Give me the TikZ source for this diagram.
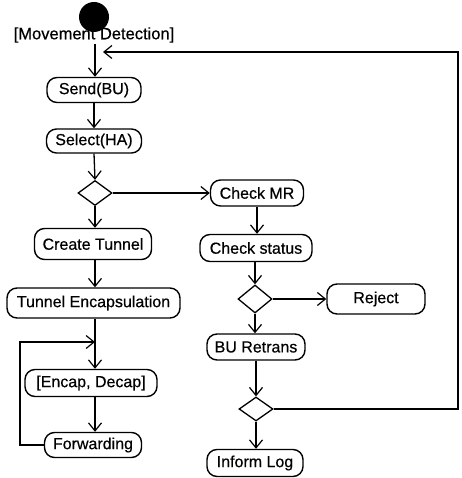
\documentclass[tikz,border=0pt]{standalone}
\usepackage{fontspec}
\setmainfont{Liberation Sans}[FakeBold=0.5]
\usetikzlibrary{arrows.meta,shapes.geometric}
\begin{document}
\begin{tikzpicture}[x=1pt,y=-1pt,
  act/.style={draw, line width=1.4pt, rounded corners=10pt, inner sep=0pt,
    font=\fontsize{16}{18}\selectfont, align=center},
  dec/.style={draw, diamond, line width=1.3pt, inner sep=0pt,
    minimum width=34pt, minimum height=25pt},
  flow/.style={line width=1.3pt, -{Straight Barb[length=8pt,width=13pt,line width=1.2pt]}},
  plain/.style={line width=1.3pt}]
\useasboundingbox (0,0) rectangle (461,478);
\node[circle, fill=black, minimum size=30pt, inner sep=0pt] (start) at (94,17) {};
\node[font=\fontsize{16.5}{18}\selectfont, inner sep=1pt] (md) at (94,35) {[Movement Detection]};
\node[act, minimum width=94pt, minimum height=25pt] (send) at (94,90) {Send(BU)};
\node[act, minimum width=95pt, minimum height=24pt] (select) at (94,141) {Select(HA)};
\node[dec] (d1) at (95,193) {};
\node[act, minimum width=117pt, minimum height=31pt] (create) at (93,244) {Create Tunnel};
\node[act, minimum width=173pt, minimum height=30pt] (tunenc) at (93.5,303) {Tunnel Encapsulation};
\coordinate (junc) at (95,342);
\node[act, minimum width=132pt, minimum height=27pt] (encdec) at (91,383) {[Encap, Decap]};
\node[act, minimum width=97pt, minimum height=25pt] (fwd) at (93,445) {Forwarding};
\coordinate (lp1) at (20,445);
\coordinate (lp2) at (20,342);

\node[act, minimum width=93pt, minimum height=26pt] (checkmr) at (257,193) {Check MR};
\node[act, minimum width=112pt, minimum height=27pt] (checkst) at (256,248) {Check status};
\node[dec, minimum height=28pt] (d2) at (255,299) {};
\node[act, minimum width=98pt, minimum height=30pt] (reject) at (376,299) {Reject};
\node[act, minimum width=98pt, minimum height=26pt] (bu) at (256,347) {BU Retrans};
\node[dec, minimum height=24pt] (d3) at (256,409) {};
\node[act, minimum width=96pt, minimum height=27pt] (inform) at (255,463) {Inform Log};
\coordinate (r1) at (458,409);
\coordinate (r2) at (458,52);
\coordinate (ret) at (103,52);

\draw[flow] (md.south -| 95,0) -- (send.north -| 95,0);
\draw[flow] (send) -- (select);
\draw[flow] (select.south) -- (d1.north);
\draw[flow] (d1.south) -- (d1.south |- create.north);
\draw[flow] (d1.east) -- (checkmr.west);
\draw[flow] (create.south -| 95,0) -- (tunenc.north -| 95,0);
\draw[plain] (tunenc.south -| junc) -- (junc);
\draw[flow] (junc) -- (encdec.north -| junc);
\draw[flow] (encdec.south -| junc) -- (fwd.north -| junc);
\draw[flow] (fwd.west) -- (lp1) -- (lp2) -- (junc);
\draw[flow] (checkmr.south -| 257,0) -- (checkst.north -| 257,0);
\draw[flow] (checkst.south -| d2) -- (d2.north);
\draw[flow] (d2.east) -- (reject.west |- d2.east);
\draw[flow] (d2.south) -- (bu.north -| d2.south);
\draw[flow] (bu.south -| d3) -- (d3.north);
\draw[flow] (d3.south) -- (inform.north -| d3.south);
\draw[flow, line width=1.1pt] (d3.east) -- (r1) -- (r2) -- (ret);
\end{tikzpicture}
\end{document}
